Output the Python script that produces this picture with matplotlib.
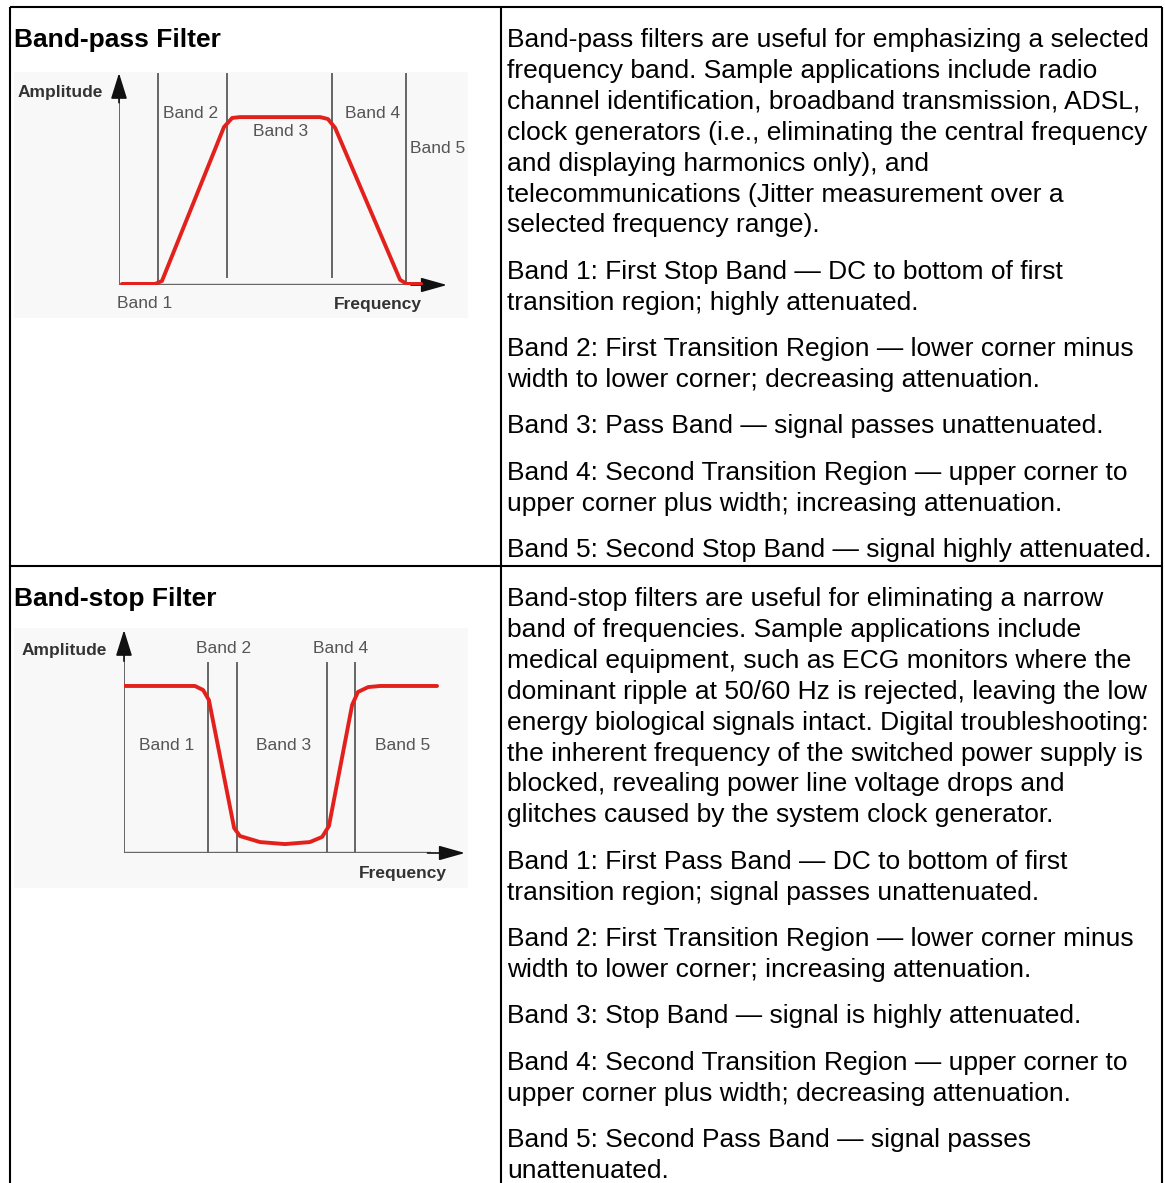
import matplotlib
matplotlib.use("Agg")
import matplotlib.pyplot as plt
from matplotlib.patches import Rectangle

W, H = 1165, 1183

# ---------------- data ----------------
bp_title = "Band-pass Filter"
bs_title = "Band-stop Filter"

bp_paragraphs = [
    ["Band-pass filters are useful for emphasizing a selected",
     "frequency band. Sample applications include radio",
     "channel identification, broadband transmission, ADSL,",
     "clock generators (i.e., eliminating the central frequency",
     "and displaying harmonics only), and",
     "telecommunications (Jitter measurement over a",
     "selected frequency range)."],
    ["Band 1: First Stop Band \u2014 DC to bottom of first",
     "transition region; highly attenuated."],
    ["Band 2: First Transition Region \u2014 lower corner minus",
     "width to lower corner; decreasing attenuation."],
    ["Band 3: Pass Band \u2014 signal passes unattenuated."],
    ["Band 4: Second Transition Region \u2014 upper corner to",
     "upper corner plus width; increasing attenuation."],
    ["Band 5: Second Stop Band \u2014 signal highly attenuated."],
]

bs_paragraphs = [
    ["Band-stop filters are useful for eliminating a narrow",
     "band of frequencies. Sample applications include",
     "medical equipment, such as ECG monitors where the",
     "dominant ripple at 50/60 Hz is rejected, leaving the low",
     "energy biological signals intact. Digital troubleshooting:",
     "the inherent frequency of the switched power supply is",
     "blocked, revealing power line voltage drops and",
     "glitches caused by the system clock generator."],
    ["Band 1: First Pass Band \u2014 DC to bottom of first",
     "transition region; signal passes unattenuated."],
    ["Band 2: First Transition Region \u2014 lower corner minus",
     "width to lower corner; increasing attenuation."],
    ["Band 3: Stop Band \u2014 signal is highly attenuated."],
    ["Band 4: Second Transition Region \u2014 upper corner to",
     "upper corner plus width; decreasing attenuation."],
    ["Band 5: Second Pass Band \u2014 signal passes",
     "unattenuated."],
]

# Band-pass diagram (frequency, amplitude in arbitrary units)
bp_edges = [1.2, 3.3, 6.5, 8.75]
bp_edge_bottom = [0.1, 0.4, 0.4, 0.1]
bp_freq = [0.09, 1.10, 1.31, 3.20, 3.45, 3.69, 6.13, 6.37, 6.59, 8.57, 8.78, 9.21]
bp_amp = [0.05, 0.05, 0.19, 7.45, 7.88, 7.92, 7.92, 7.83, 7.41, 0.24, 0.05, 0.05]
bp_labels = ["Band 1", "Band 2", "Band 3", "Band 4", "Band 5"]

# Band-stop diagram
bs_edges = [2.46, 3.31, 5.95, 6.77]
bs_freq = [0.0, 2.08, 2.32, 2.49, 3.23, 3.40, 3.99, 4.72, 5.45, 5.81, 6.01,
           6.69, 6.86, 7.16, 7.51, 9.18]
bs_amp = [7.49, 7.49, 7.31, 6.86, 1.12, 0.76, 0.49, 0.40, 0.49, 0.72, 1.21,
          6.64, 7.22, 7.44, 7.49, 7.49]
bs_labels = ["Band 1", "Band 2", "Band 3", "Band 4", "Band 5"]

# ---------------- figure ----------------
FONT = "Liberation Sans"
fig = plt.figure(figsize=(W / 100, H / 100), dpi=100)
base = fig.add_axes([0, 0, 1, 1])
base.set_xlim(0, W)
base.set_ylim(H, 0)
base.axis("off")

# table borders
X_L, X_M, X_R = 10, 501, 1162
Y_T, Y_M = 7, 566
lw_b = 1.5
base.plot([X_L, X_R], [Y_T, Y_T], color="black", lw=lw_b, solid_capstyle="butt")
base.plot([X_L, X_R], [Y_M, Y_M], color="black", lw=lw_b, solid_capstyle="butt")
for x in (X_L, X_M, X_R):
    base.plot([x, x], [Y_T, H], color="black", lw=lw_b, solid_capstyle="butt")

# titles
TXT = 19
BASE_OFF = 7
base.text(14, Y_T + 33 + BASE_OFF, bp_title, fontsize=TXT, fontweight="bold",
          family=FONT, va="baseline", ha="left")
base.text(14, Y_M + 33 + BASE_OFF, bs_title, fontsize=TXT, fontweight="bold",
          family=FONT, va="baseline", ha="left")

PITCH = 30.9
PGAP = 15.5


def write_cell(paragraphs, top):
    n = 0
    for p, para in enumerate(paragraphs):
        for line in para:
            y = top + 33 + n * PITCH + p * PGAP + BASE_OFF
            base.text(507, y, line, fontsize=TXT, family=FONT,
                      va="baseline", ha="left", color="black")
            n += 1


write_cell(bp_paragraphs, Y_T)
write_cell(bs_paragraphs, Y_M)

# diagram backgrounds
base.add_patch(Rectangle((14, 72), 454, 246, facecolor="#f8f8f8",
                         edgecolor="none", zorder=0))
base.add_patch(Rectangle((14, 628), 454, 260, facecolor="#f8f8f8",
                         edgecolor="none", zorder=0))


def px_axes(x0, y0, x1, y1):
    a = fig.add_axes([x0 / W, 1 - y1 / H, (x1 - x0) / W, (y1 - y0) / H])
    a.set_xlim(0, 10)
    a.set_ylim(0, 10)
    a.axis("off")
    a.patch.set_alpha(0)
    return a


RED = "#e3211c"
GRAY_LINE = "#666666"
LABEL_C = "#555555"
LBL = 12.5


def draw_axes_arrows(a):
    a.plot([0, 0], [0, 9.0], color="#666666", lw=1.4, solid_capstyle="butt", zorder=2)
    a.plot([0, 9.0], [0, 0], color="#666666", lw=1.7, solid_capstyle="butt", zorder=2)
    a.annotate("", xy=(0, 10), xytext=(0, 8.6),
               arrowprops=dict(arrowstyle="-|>,head_length=1.6,head_width=0.5",
                               mutation_scale=10, color="#111111", lw=1.2,
                               shrinkA=0, shrinkB=0))
    a.annotate("", xy=(10, 0), xytext=(8.9, 0),
               arrowprops=dict(arrowstyle="-|>,head_length=1.6,head_width=0.45",
                               mutation_scale=10, color="#111111", lw=1.2,
                               shrinkA=0, shrinkB=0))


# ---- band-pass diagram ----
a1 = px_axes(119, 73, 447, 285)
draw_axes_arrows(a1)
for e, b in zip(bp_edges, bp_edge_bottom):
    a1.plot([e, e], [b, 9.95], color=GRAY_LINE, lw=1.4, zorder=2)
a1.plot(bp_freq, bp_amp, color=RED, lw=2.8, solid_joinstyle="round",
        solid_capstyle="round", zorder=3)
a1.text(-0.49, 9.1, "Amplitude", fontsize=LBL, fontweight="bold", family=FONT,
        color="#333333", ha="right", va="center", clip_on=False)
a1.text(-0.06, -0.85, bp_labels[0], fontsize=LBL, family=FONT, color=LABEL_C,
        ha="left", va="center", clip_on=False)
a1.text(1.34, 8.07, bp_labels[1], fontsize=LBL, family=FONT, color=LABEL_C,
        ha="left", va="center", clip_on=False)
a1.text(4.94, 7.26, bp_labels[2], fontsize=LBL, family=FONT, color=LABEL_C,
        ha="center", va="center", clip_on=False)
a1.text(6.89, 8.07, bp_labels[3], fontsize=LBL, family=FONT, color=LABEL_C,
        ha="left", va="center", clip_on=False)
a1.text(8.87, 6.46, bp_labels[4], fontsize=LBL, family=FONT, color=LABEL_C,
        ha="left", va="center", clip_on=False)
a1.text(6.55, -0.94, "Frequency", fontsize=LBL, fontweight="bold", family=FONT,
        color="#333333", ha="left", va="center", clip_on=False)

# ---- band-stop diagram ----
a2 = px_axes(124, 630, 465, 853)
draw_axes_arrows(a2)
for e in bs_edges:
    a2.plot([e, e], [0, 8.52], color=GRAY_LINE, lw=1.4, zorder=2)
a2.plot(bs_freq, bs_amp, color=RED, lw=2.8, solid_joinstyle="round",
        solid_capstyle="round", zorder=3)
a2.text(-0.5, 9.06, "Amplitude", fontsize=LBL, fontweight="bold", family=FONT,
        color="#333333", ha="right", va="center", clip_on=False)
a2.text(1.26, 4.8, bs_labels[0], fontsize=LBL, family=FONT, color=LABEL_C,
        ha="center", va="center", clip_on=False)
a2.text(2.93, 9.15, bs_labels[1], fontsize=LBL, family=FONT, color=LABEL_C,
        ha="center", va="center", clip_on=False)
a2.text(4.69, 4.8, bs_labels[2], fontsize=LBL, family=FONT, color=LABEL_C,
        ha="center", va="center", clip_on=False)
a2.text(6.36, 9.15, bs_labels[3], fontsize=LBL, family=FONT, color=LABEL_C,
        ha="center", va="center", clip_on=False)
a2.text(8.18, 4.8, bs_labels[4], fontsize=LBL, family=FONT, color=LABEL_C,
        ha="center", va="center", clip_on=False)
a2.text(8.18, -0.9, "Frequency", fontsize=LBL, fontweight="bold", family=FONT,
        color="#333333", ha="center", va="center", clip_on=False)

fig.savefig("out.png", dpi=100)
